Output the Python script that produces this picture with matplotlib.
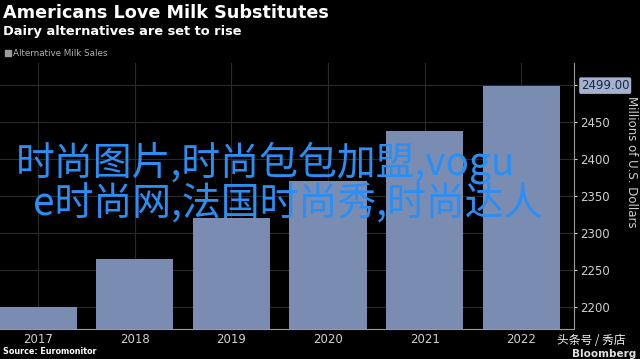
import matplotlib
matplotlib.use("Agg")
import matplotlib.pyplot as plt

years = ["2017", "2018", "2019", "2020", "2021", "2022"]
sales = [2200, 2266, 2321, 2370, 2438, 2499]
ytick_values = [2200, 2250, 2300, 2350, 2400, 2450, 2500]
ytick_labels = ["2200", "2250", "2300", "2350", "2400", "2450", ""]

title = "Americans Love Milk Substitutes"
subtitle = "Dairy alternatives are set to rise"
legend_label = "Alternative Milk Sales"
source = "Source: Euromonitor"
ylabel = "Millions of U.S. Dollars"
overlay_lines = ["时尚图片,时尚包包加盟,vogu", "e时尚网,法国时尚秀,时尚达人"]

plt.rcParams['font.family'] = ['DejaVu Sans', 'Noto Sans CJK SC']

BG = "#000000"
BAR = "#7b8cb3"
GRID = "#2a2a2a"
TXT = "#cfcfcf"
CJK = ["Noto Sans CJK SC", "DejaVu Sans"]

fig = plt.figure(figsize=(6.4, 3.59), dpi=100, facecolor=BG)
ax = fig.add_axes([0.0, 30 / 359, 574 / 640, 266 / 359], facecolor=BG)

x = list(range(len(years)))
ax.bar(x, sales, width=0.8, color=BAR, zorder=2)

ax.set_xlim(-0.393, 5.543)
ax.set_ylim(2171, 2529.5)
ax.set_xticks(x)
ax.set_xticklabels(years)
ax.set_yticks(ytick_values)
ax.set_yticklabels(ytick_labels)
ax.yaxis.tick_right()
ax.tick_params(axis="y", colors=TXT, labelsize=8.5, length=2.5, width=0.8, pad=2)
ax.tick_params(axis="x", colors=TXT, labelsize=8.5, length=0, pad=3)
ax.grid(True, color=GRID, linewidth=0.8, zorder=0)

for s in ["top", "left"]:
    ax.spines[s].set_visible(False)
ax.spines["right"].set_color("#9a9a9a")
ax.spines["bottom"].set_color("#9a9a9a")
ax.spines["right"].set_linewidth(0.8)
ax.spines["bottom"].set_linewidth(0.8)

# last value label on the axis
ax.annotate(f"{sales[-1]:.2f}", xy=(1.0, sales[-1]), xycoords=("axes fraction", "data"),
            xytext=(5, 0), textcoords="offset points", va="center", ha="left",
            fontsize=8.5, color="#1c2742",
            bbox=dict(boxstyle="round,pad=0.15", fc="#a4b2d0", ec="none"))

fig.text(632 / 640, 0.55, ylabel, rotation=270, ha="center", va="center",
         fontsize=8.5, color=TXT)

# header
fig.text(3 / 640, 1 - 13 / 359, title, fontsize=12.7, fontweight="bold", color="white",
         ha="left", va="center")
fig.text(3 / 640, 1 - 31 / 359, subtitle, fontsize=9.4, fontweight="bold", color="white",
         ha="left", va="center")
fig.patches.append(plt.Rectangle((5 / 640, 1 - 56 / 359), 6 / 640, 6 / 359,
                                 transform=fig.transFigure, color="#9a9a9a"))
fig.text(13 / 640, 1 - 53 / 359, legend_label, fontsize=6.3, color="#b0b0b0",
         ha="left", va="center")

# footer
fig.text(3 / 640, 1 - 352 / 359, source, fontsize=5.8, fontweight="bold", color="white",
         ha="left", va="center")
fig.text(636 / 640, 1 - 354 / 359, "Bloomberg", fontsize=7.5, fontweight="bold",
         color="#e0e0e0", ha="right", va="center")
fig.text(626 / 640, 1 - 341 / 359, "头条号 / 秀店", fontsize=8.5, color="#f0f0f0",
         ha="right", va="center", family=CJK)

# overlay text
fig.text(266 / 640, 1 - 163 / 359, overlay_lines[0], fontsize=28, fontweight="medium",
         color="#2a8ff5", ha="center", va="center", family=CJK)
fig.text(288 / 640, 1 - 204 / 359, overlay_lines[1], fontsize=28, fontweight="medium",
         color="#2a8ff5", ha="center", va="center", family=CJK)

fig.savefig("out.png", dpi=100, facecolor=BG)
